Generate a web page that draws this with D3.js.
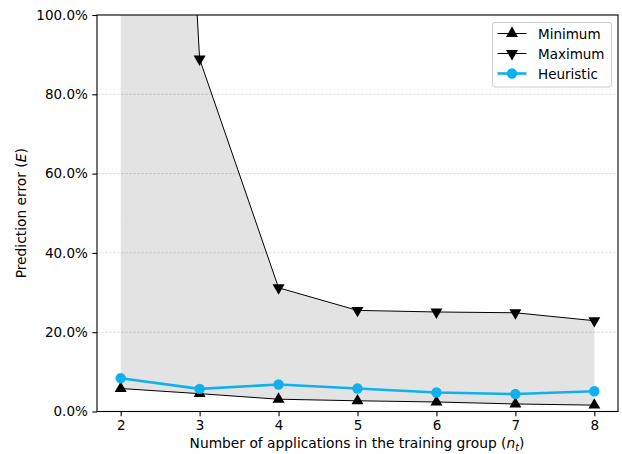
<!DOCTYPE html>
<html lang="en">
<head>
<meta charset="UTF-8">
<title>Prediction error</title>
<script src="https://cdn.jsdelivr.net/npm/d3@7/dist/d3.min.js"></script>
<style>
    body { margin: 0; background: #fff; }
    text { font-family: "DejaVu Sans", sans-serif; fill: #000; }
</style>
</head>
<body>
<div id="chart"></div>
<script>
// data (fractions of 1)
var groupSizes = [2, 3, 4, 5, 6, 7, 8];
var minimum   = [0.058, 0.045, 0.031, 0.027, 0.024, 0.019, 0.016];
var maximum   = [4.50, 0.889, 0.312, 0.255, 0.251, 0.249, 0.229];
var heuristic = [0.084, 0.057, 0.068, 0.058, 0.048, 0.044, 0.051];
var yTicks = [0, 0.2, 0.4, 0.6, 0.8, 1.0];

var W = 622, H = 454,
    m = {top: 15, right: 4, bottom: 42.5, left: 97};

var svg = d3.select('#chart').append('svg')
    .attr('width', W).attr('height', H);

var x = d3.scaleLinear().domain([1.7, 8.3]).range([m.left, W - m.right]);
var y = d3.scaleLinear().domain([0, 1]).range([H - m.bottom, m.top]);

svg.append('clipPath').attr('id', 'clip')
    .append('rect')
    .attr('x', m.left).attr('y', m.top)
    .attr('width', W - m.right - m.left).attr('height', H - m.bottom - m.top);

var rows = groupSizes.map((n, i) => ({n: n, min: minimum[i], max: maximum[i], heu: heuristic[i]}));

// grid
svg.append('g').selectAll('line').data(yTicks.slice(1, -1)).join('line')
    .attr('x1', m.left).attr('x2', W - m.right)
    .attr('y1', d => y(d)).attr('y2', d => y(d))
    .attr('stroke', '#d6d6d6').attr('stroke-width', 0.8)
    .attr('stroke-dasharray', '2.8,1.2');

var plot = svg.append('g').attr('clip-path', 'url(#clip)');

plot.append('path').datum(rows)
    .attr('fill', '#000').attr('fill-opacity', 0.11)
    .attr('d', d3.area().x(d => x(d.n)).y0(d => y(d.min)).y1(d => y(d.max)));

var line = key => d3.line().x(d => x(d.n)).y(d => y(d[key]));

plot.append('path').datum(rows).attr('fill', 'none')
    .attr('stroke', '#000').attr('stroke-width', 1).attr('d', line('min'));
plot.append('path').datum(rows).attr('fill', 'none')
    .attr('stroke', '#000').attr('stroke-width', 1).attr('d', line('max'));
plot.append('path').datum(rows).attr('fill', 'none')
    .attr('stroke', '#0fb0ee').attr('stroke-width', 2.6).attr('d', line('heu'));

var triUp = d3.symbol().type(d3.symbolTriangle).size(62);
plot.selectAll('.mn').data(rows).join('path')
    .attr('transform', d => `translate(${x(d.n)},${y(d.min)})`)
    .attr('d', triUp).attr('fill', '#000');
plot.selectAll('.mx').data(rows).join('path')
    .attr('transform', d => `translate(${x(d.n)},${y(d.max)}) rotate(180)`)
    .attr('d', triUp).attr('fill', '#000');
plot.selectAll('.hu').data(rows).join('circle')
    .attr('cx', d => x(d.n)).attr('cy', d => y(d.heu))
    .attr('r', 5.2).attr('fill', '#0fb0ee');

// axes
var xAxis = svg.append('g').attr('transform', `translate(0,${H - m.bottom})`)
    .call(d3.axisBottom(x).tickValues(groupSizes).tickSize(4.7).tickPadding(4.5).tickFormat(d3.format('d')));
var yAxis = svg.append('g').attr('transform', `translate(${m.left},0)`)
    .call(d3.axisLeft(y).tickValues(yTicks).tickSize(4.7).tickPadding(4.5).tickFormat(d3.format('.1%')));
[xAxis, yAxis].forEach(a => {
    a.selectAll('text').attr('font-size', 13.5).attr('font-family', '"DejaVu Sans", sans-serif');
    a.select('.domain').remove();
    a.selectAll('line').attr('stroke', '#000').attr('stroke-width', 1.1);
});

// frame
svg.append('rect')
    .attr('x', m.left).attr('y', m.top)
    .attr('width', W - m.right - m.left).attr('height', H - m.bottom - m.top)
    .attr('fill', 'none').attr('stroke', '#000').attr('stroke-width', 1.1);

// axis labels
var xl = svg.append('text').attr('x', 357).attr('y', 447.5)
    .attr('text-anchor', 'middle').attr('font-size', 13.8);
xl.append('tspan').text('Number of applications in the training group (');
xl.append('tspan').attr('font-style', 'italic').text('n');
xl.append('tspan').attr('font-style', 'italic').attr('font-size', 9.7).attr('dy', 3).text('t');
xl.append('tspan').attr('dy', -3).text(')');

var yl = svg.append('text')
    .attr('transform', `translate(26,${(m.top + H - m.bottom) / 2}) rotate(-90)`)
    .attr('text-anchor', 'middle').attr('font-size', 13.8);
yl.append('tspan').text('Prediction error (');
yl.append('tspan').attr('font-style', 'italic').text('E');
yl.append('tspan').text(')');

// legend
var lg = svg.append('g').attr('transform', 'translate(492.5,22.5)');
lg.append('rect').attr('width', 119).attr('height', 64.5).attr('rx', 2.5)
    .attr('fill', '#fff').attr('fill-opacity', 0.8)
    .attr('stroke', '#ccc').attr('stroke-width', 1);
var items = [
    {label: 'Minimum', color: '#000', w: 1, mark: 'up'},
    {label: 'Maximum', color: '#000', w: 1, mark: 'down'},
    {label: 'Heuristic', color: '#0fb0ee', w: 2.6, mark: 'dot'}
];
var li = lg.selectAll('.item').data(items).join('g')
    .attr('transform', (d, i) => `translate(0,${11 + i * 20})`);
li.append('line').attr('x1', 5).attr('x2', 34)
    .attr('stroke', d => d.color).attr('stroke-width', d => d.w);
li.each(function (d) {
    var g = d3.select(this);
    if (d.mark === 'dot') g.append('circle').attr('cx', 19.5).attr('r', 5.2).attr('fill', d.color);
    else g.append('path').attr('d', triUp)
        .attr('transform', `translate(19.5,0)${d.mark === 'down' ? ' rotate(180)' : ''}`)
        .attr('fill', d.color);
});
li.append('text').attr('x', 45.5).attr('y', 5).attr('font-size', 13.5).text(d => d.label);
</script>
</body>
</html>
